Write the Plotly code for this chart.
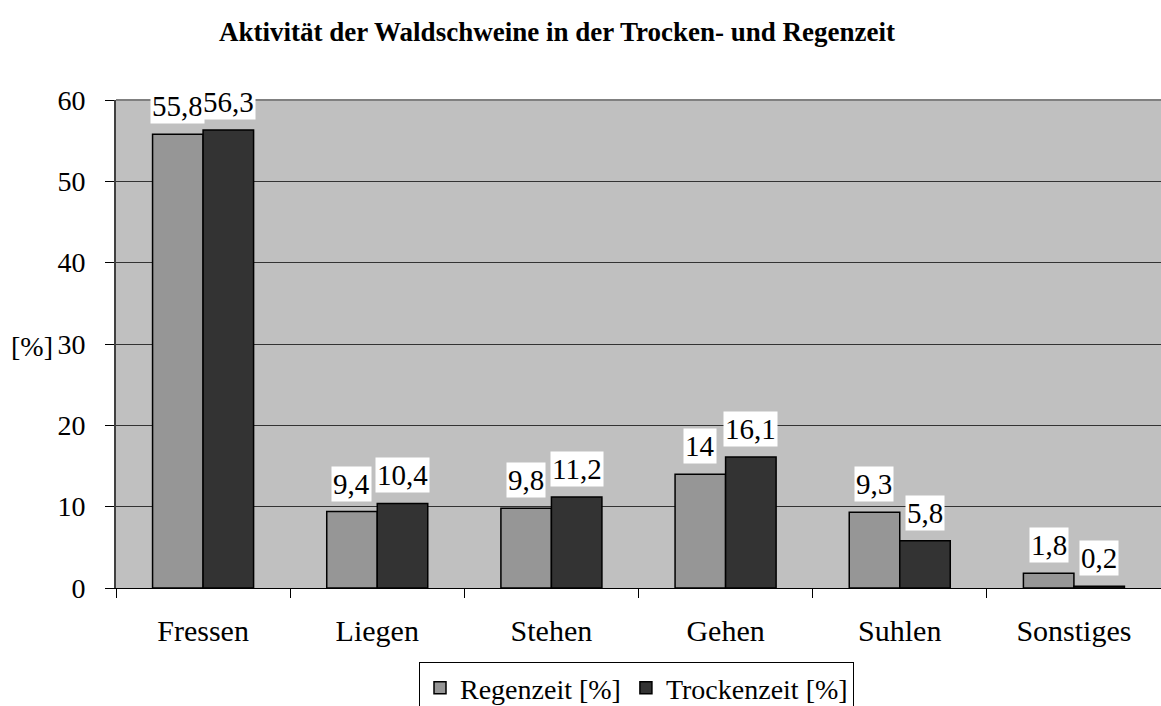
import plotly.graph_objects as go

categories = ["Fressen", "Liegen", "Stehen", "Gehen", "Suhlen", "Sonstiges"]
regenzeit = [55.8, 9.4, 9.8, 14, 9.3, 1.8]
trockenzeit = [56.3, 10.4, 11.2, 16.1, 5.8, 0.2]
series_names = ["Regenzeit [%]", "Trockenzeit [%]"]
y_ticks = [0, 10, 20, 30, 40, 50, 60]

W, H = 1161, 706
ML, MR, MT, MB = 116, 0, 100, 118
BARGAP = 0.42
FONT = "Liberation Serif"
FS_XTICK = 30
FS_YTICK = 28
FS_LAB = 29
FS_LEG = 28

plot_w = W - ML - MR
plot_h = H - MT - MB
cat_w = plot_w / len(categories)
bar_px = cat_w * (1 - BARGAP) / 2


def fmt(v):
    return f"{v:g}".replace(".", ",")


fig = go.Figure()
fig.add_trace(go.Bar(x=categories, y=regenzeit, name=series_names[0],
                     marker=dict(color="#969696", line=dict(color="black", width=1.5))))
fig.add_trace(go.Bar(x=categories, y=trockenzeit, name=series_names[1],
                     marker=dict(color="#333333", line=dict(color="black", width=1.5))))

annotations = []
for vals, sh in ((regenzeit, -bar_px / 2), (trockenzeit, bar_px / 2)):
    for c, v in zip(categories, vals):
        annotations.append(dict(
            x=c, y=v, xref="x", yref="y", text=fmt(v), showarrow=False,
            xanchor="center", yanchor="bottom", xshift=sh, yshift=10,
            bgcolor="white", borderpad=1,
            font=dict(family=FONT, size=FS_LAB, color="black")))

annotations.append(dict(x=(32 - ML) / plot_w, y=(H - MB - 346) / plot_h,
                        xref="paper", yref="paper", text="[%]", showarrow=False,
                        xanchor="center", yanchor="middle",
                        font=dict(family=FONT, size=FS_YTICK, color="black")))

fig.update_layout(
    width=W, height=H,
    margin=dict(l=ML, r=MR, t=MT, b=MB, pad=0, autoexpand=False),
    paper_bgcolor="white", plot_bgcolor="#c0c0c0",
    barmode="group", bargap=BARGAP, bargroupgap=0,
    title=dict(text="<b>Aktivität der Waldschweine in der Trocken- und Regenzeit</b>",
               x=557 / W, xref="container", xanchor="center",
               y=1 - 32 / H, yref="container", yanchor="middle",
               font=dict(family=FONT, size=27, color="black")),
    font=dict(family=FONT, size=FS_XTICK, color="black"),
    showlegend=True,
    legend=dict(orientation="h", x=(419 - ML) / plot_w, xanchor="left",
                y=-(662 - (H - MB)) / plot_h, yanchor="top",
                bordercolor="black", borderwidth=1, bgcolor="white",
                font=dict(family=FONT, size=FS_LEG, color="black"),
                itemwidth=30, traceorder="normal"),
    annotations=annotations,
    shapes=[dict(type="line", xref="paper", yref="paper", x0=0, x1=1, y0=1, y1=1,
                 line=dict(color="#808080", width=2), layer="above")],
)

fig.update_xaxes(type="category", tickson="boundaries", ticks="outside", ticklen=9,
                 tickcolor="black", tickwidth=1, showline=True, linecolor="black",
                 linewidth=1, showgrid=False, ticklabelstandoff=16,
                 tickfont=dict(family=FONT, size=FS_XTICK, color="black"))
fig.update_yaxes(range=[0, 60], tickvals=y_ticks, ticks="outside", ticklen=9,
                 tickcolor="black", tickwidth=1, showline=True, linecolor="#404040",
                 linewidth=2, showgrid=True, gridcolor="#333333", gridwidth=1,
                 zeroline=False, ticklabelstandoff=14,
                 tickfont=dict(family=FONT, size=FS_YTICK, color="black"))

fig.write_html("out.html", config={"displayModeBar": False},
               post_script="document.body.style.margin='0px';")
